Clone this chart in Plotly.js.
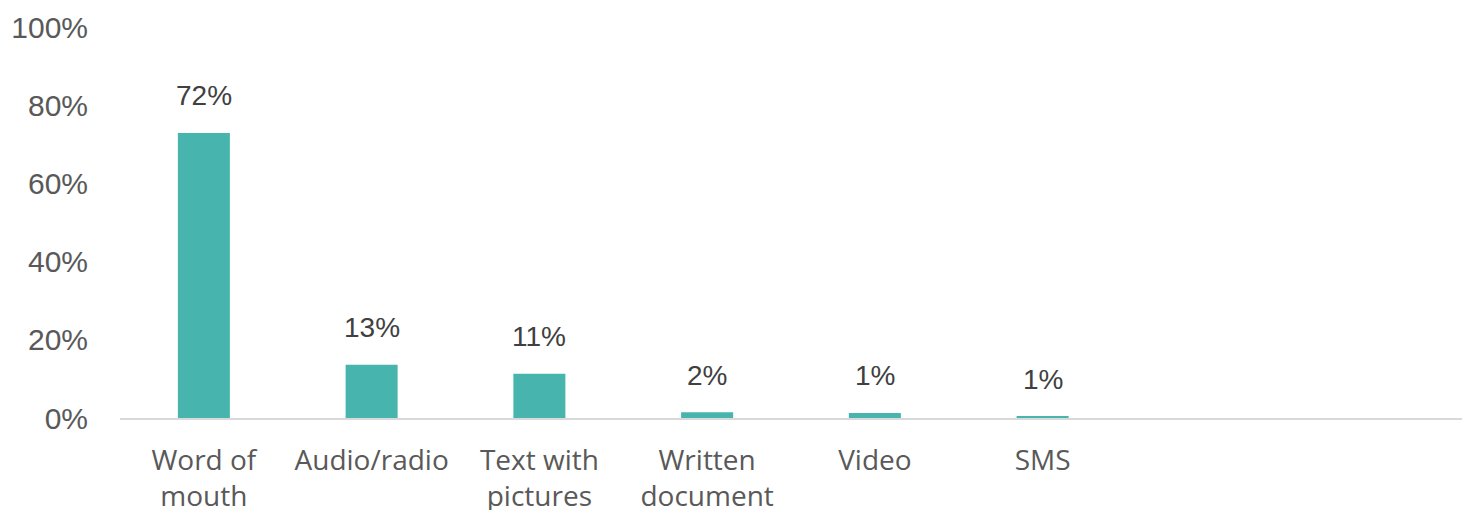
<!DOCTYPE html>
<html>
<head>
<meta charset="utf-8">
<script src="https://cdn.plot.ly/plotly-3.0.1.min.js"></script>
<style>html,body{margin:0;padding:0;background:#fff;}#chart{width:1469px;height:510px;}</style>
</head>
<body>
<div id="chart"></div>
<script>
const categories = ["Word of<br>mouth", "Audio/radio", "Text with<br>pictures", "Written<br>document", "Video", "SMS"];
const values = [72.9, 13.6, 11.3, 1.5, 1.3, 0.5];
const valueLabels = ["72%", "13%", "11%", "2%", "1%", "1%"];
const yTicks = [0, 20, 40, 60, 80, 100];

const idx = categories.map((_, i) => i);

const trace = {
  type: 'bar',
  x: idx,
  y: values,
  marker: {color: '#47B5AE'},
  width: 0.31,
  hoverinfo: 'skip'
};

const annotations = idx.map(i => ({
  x: i, y: values[i], xref: 'x', yref: 'y',
  text: valueLabels[i], showarrow: false,
  yanchor: 'middle', yshift: 37,
  font: {family: 'Liberation Sans, Arial, sans-serif', size: 28, color: '#404040'}
}));

const layout = {
  width: 1469, height: 510,
  margin: {l: 120, r: 7, t: 27, b: 92},
  paper_bgcolor: '#ffffff', plot_bgcolor: '#ffffff',
  showlegend: false,
  xaxis: {
    type: 'linear',
    range: [-0.5, 7.5],
    tickvals: idx, ticktext: categories,
    showgrid: false, zeroline: false,
    showline: true, linecolor: '#D9D9D9', linewidth: 2,
    ticks: '', ticklabelstandoff: 16,
    tickfont: {family: 'Open Sans, sans-serif', size: 28, color: '#595959'},
    fixedrange: true
  },
  yaxis: {
    range: [0, 100],
    tickvals: yTicks, ticktext: yTicks.map(v => v + '%'),
    showgrid: false, zeroline: false, showline: false,
    ticks: '', ticklabelstandoff: 31,
    tickfont: {family: 'Liberation Sans, Arial, sans-serif', size: 30, color: '#595959'},
    fixedrange: true
  },
  annotations: annotations
};

Plotly.newPlot('chart', [trace], layout, {displayModeBar: false, staticPlot: true});
</script>
</body>
</html>
